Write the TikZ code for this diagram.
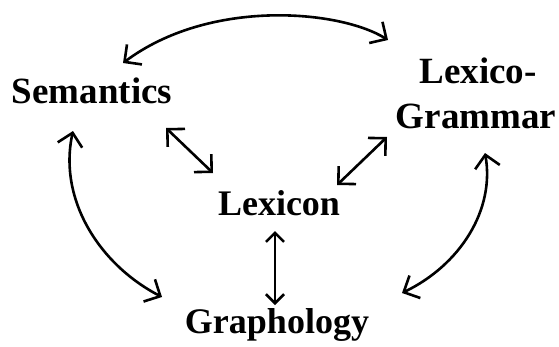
\documentclass[tikz,border=0pt]{standalone}
\usepackage{fontspec}
\setmainfont{Liberation Serif}
\usetikzlibrary{arrows.meta}
\begin{document}
\begin{tikzpicture}[x=1pt,y=-1pt,
  lbl/.style={font=\fontsize{36}{40}\selectfont\bfseries, inner sep=0pt, anchor=base, align=center},
  lblw/.style={lbl, font=\fontsize{37}{40}\selectfont\bfseries},
  big/.style={line width=2.6pt, {Straight Barb[length=12.5pt,width=25pt]}-{Straight Barb[length=12.5pt,width=25pt]}},
  small/.style={line width=2.6pt, {Straight Barb[length=9pt,width=18pt]}-{Straight Barb[length=9pt,width=18pt]}}]
\useasboundingbox (0,0) rectangle (559,346);
\node[lblw] (sem) at (92,103) {Semantics};
\node[lbl] (lex) at (279,215) {Lexicon};
\node[lbl] (gra) at (277,333) {Graphology};
\node[lblw] (lexgr) at (476,128) {Grammar};
\node[lblw] (lexgr1) at (478,83) {Lexico-};
\coordinate (t1) at (123,63);
\coordinate (t2) at (388,40);
\coordinate (l1) at (73,131);
\coordinate (l2) at (162,297);
\coordinate (r1) at (485,153);
\coordinate (r2) at (402,293);
\coordinate (d1) at (166,128);
\coordinate (d2) at (213,173);
\coordinate (e1) at (337,185);
\coordinate (e2) at (387,137);
\coordinate (v1) at (275,231);
\coordinate (v2) at (275,305);
\draw[big] (t1) .. controls (210,-2) and (340,10) .. (t2);
\draw[big] (l1) .. controls (58,200) and (100,265) .. (l2);
\draw[big] (r1) .. controls (495,210) and (460,265) .. (r2);
\draw[big] (d1) -- (d2);
\draw[big] (e1) -- (e2);
\draw[small] (v1) -- (v2);
\end{tikzpicture}
\end{document}
